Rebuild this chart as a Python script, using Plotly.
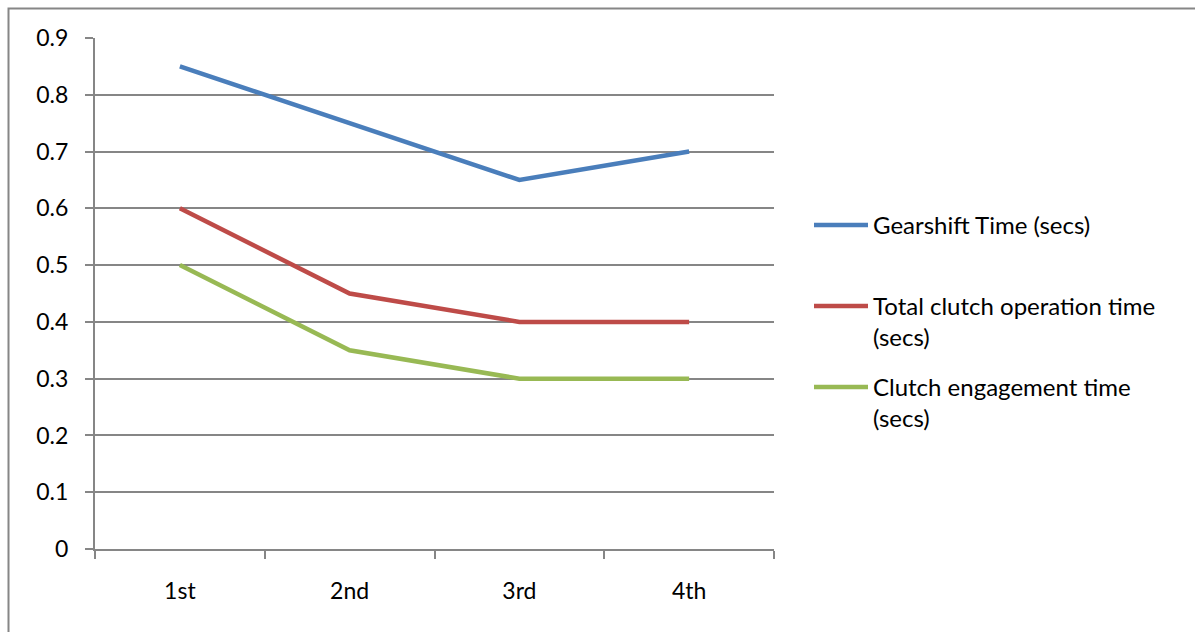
import plotly.graph_objects as go

# Gear changes and measured timings (seconds)
gears = ["1st", "2nd", "3rd", "4th"]
gearshift_time = [0.85, 0.75, 0.65, 0.70]
total_clutch_time = [0.60, 0.45, 0.40, 0.40]
clutch_engagement_time = [0.50, 0.35, 0.30, 0.30]

series_names = [
    "Gearshift Time (secs)",
    "Total clutch operation time<br>(secs)",
    "Clutch engagement time<br>(secs)",
]
series_values = [gearshift_time, total_clutch_time, clutch_engagement_time]
series_colors = ["#4A7EBB", "#BE4B48", "#98B954"]

y_ticks = [0, 0.1, 0.2, 0.3, 0.4, 0.5, 0.6, 0.7, 0.8, 0.9]

W, H = 1195, 632
L, R, T, B = 95, 774, 38, 549
FONT = "Lato"
GRID = "#868686"

fig = go.Figure()
for name, vals, col in zip(series_names, series_values, series_colors):
    fig.add_trace(go.Scatter(
        x=gears, y=vals, mode="lines", name=name,
        line=dict(color=col, width=4.5), showlegend=False,
    ))

def px_to_paper_x(px):
    return (px - L) / (R - L)

def px_to_paper_y(py):
    return (B - py) / (B - T)

# Hand-placed legend: sample line + label per series
legend_y = [225, 306, 387]
shapes = []
annotations = []
for name, col, ly in zip(series_names, series_colors, legend_y):
    shapes.append(dict(
        type="line", xref="paper", yref="paper",
        x0=px_to_paper_x(814), x1=px_to_paper_x(868),
        y0=px_to_paper_y(ly), y1=px_to_paper_y(ly),
        line=dict(color=col, width=4.5),
    ))
    annotations.append(dict(
        xref="paper", yref="paper",
        x=px_to_paper_x(871), y=px_to_paper_y(ly - 17),
        xanchor="left", yanchor="top", align="left",
        text=name, showarrow=False,
        font=dict(family=FONT, size=24, color="#000000"),
    ))

# Outer chart border
shapes.append(dict(
    type="rect", xref="paper", yref="paper",
    x0=px_to_paper_x(8.5), x1=px_to_paper_x(1210),
    y0=px_to_paper_y(650), y1=px_to_paper_y(8.5),
    line=dict(color=GRID, width=2), fillcolor="rgba(0,0,0,0)",
    layer="below",
))

fig.update_layout(
    width=W, height=H,
    margin=dict(l=L, r=W - R, t=T, b=H - B, pad=0),
    paper_bgcolor="white", plot_bgcolor="white",
    font=dict(family=FONT, size=23, color="#000000"),
    shapes=shapes, annotations=annotations,
    showlegend=False,
)
fig.update_xaxes(
    type="category", range=[-0.5, 3.5],
    showgrid=False, showline=True, linecolor=GRID, linewidth=2,
    ticks="outside", tickson="boundaries", ticklen=8, tickcolor=GRID, tickwidth=2,
    ticklabelstandoff=20, zeroline=False,
)
fig.update_yaxes(
    range=[0, 0.9], tickvals=y_ticks, ticktext=[f"{v:g}" for v in y_ticks],
    showgrid=True, gridcolor=GRID, gridwidth=2,
    showline=True, linecolor=GRID, linewidth=2,
    ticks="outside", ticklen=8, tickcolor=GRID, tickwidth=2,
    ticklabelstandoff=12, zeroline=False,
)

fig.write_html("out.html")
